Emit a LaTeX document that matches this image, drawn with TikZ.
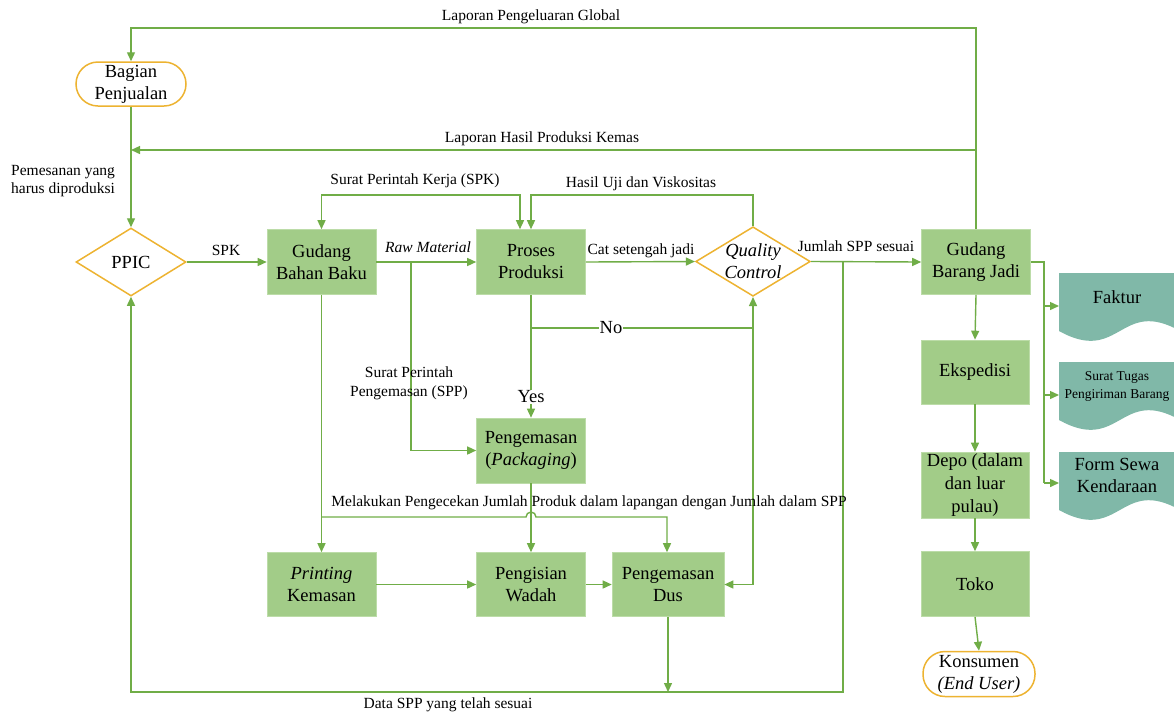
\documentclass[tikz,border=0pt]{standalone}
\usepackage{fontspec}
\setmainfont{Liberation Serif}
\usetikzlibrary{arrows.meta,shapes.geometric}
\definecolor{lg}{HTML}{70AD47}
\definecolor{boxg}{HTML}{A2CC88}
\definecolor{boxb}{HTML}{BCDCA8}
\definecolor{gold}{HTML}{EDB331}
\definecolor{teal}{HTML}{80B8A8}
\tikzset{
  big/.style={font=\fontsize{18.5}{22}\selectfont},
  box/.style={big, fill=boxg, draw=boxb, line width=0.6pt, minimum width=109pt, minimum height=65pt, align=center, inner sep=0pt},
  term/.style={big, fill=white, draw=gold, line width=1.5pt, rounded corners=22pt, minimum width=110pt, minimum height=44pt, align=center, inner sep=0pt},
  dia/.style={big, diamond, draw=gold, fill=white, line width=1.5pt, aspect=1.65, minimum width=110pt, minimum height=68pt, inner sep=0pt, align=center},
  con/.style={draw=lg, line width=1.4pt},
  arr/.style={con, -{Triangle[length=9pt,width=8pt]}},
  lbl/.style={font=\fontsize{15.5}{19}\selectfont, inner sep=1pt, align=center},
  docf/.style={fill=teal},
  doct/.style={big, align=center, inner sep=0pt},
  docn/.style={inner sep=0pt, minimum width=120pt, minimum height=52pt, anchor=north west}
}
\begin{document}
\begin{tikzpicture}[x=1pt,y=-1pt]
\useasboundingbox (0,0) rectangle (1174,716);
% ---------- nodes ----------
\node[term] (bp) at (131,84) {Bagian\\Penjualan};
\node[dia] (ppic) at (131,262) {PPIC};
\node[box] (gbb) at (321.5,262) {Gudang\\Bahan Baku};
\node[box] (pp) at (531,262) {Proses\\Produksi};
\node[dia, minimum width=112pt, minimum height=67pt] (qc) at (753,261.5) {\textit{Quality}\\\textit{Control}};
\node[box] (gbj) at (976,262) {Gudang\\Barang Jadi};
\node[box, minimum width=108pt, minimum height=64pt] (eks) at (975,372) {Ekspedisi};
\node[box, minimum width=108pt, minimum height=66pt, font=\fontsize{18.5}{23}\selectfont] (depo) at (975,485) {Depo (dalam\\dan luar\\pulau)};
\node[box, minimum width=108pt] (toko) at (975,584) {Toko};
\node[term, minimum width=112pt, minimum height=45pt] (kons) at (979,674) {Konsumen\\\textit{(End User)}};
\node[box] (pack) at (531,450.5) {Pengemasan\\(\textit{Packaging})};
\node[box, minimum height=64pt] (print) at (321.5,584.5) {\textit{Printing}\\Kemasan};
\node[box, minimum height=64pt] (isi) at (531,584.5) {Pengisian\\Wadah};
\node[box, minimum width=112pt, minimum height=64pt] (dus) at (668,584.5) {Pengemasan\\Dus};
% documents
\fill[docf] (1059,273) -- (1180,273) -- (1180,331) .. controls (1120,297) and (1120,365) .. (1059,331) -- cycle;
\fill[docf] (1059,362) -- (1180,362) -- (1180,420) .. controls (1120,386) and (1120,454) .. (1059,420) -- cycle;
\fill[docf] (1059,452) -- (1180,452) -- (1180,510) .. controls (1120,476) and (1120,544) .. (1059,510) -- cycle;
\node[docn] (fak) at (1059,273) {};
\node[docn] (stp) at (1059,362) {};
\node[docn] (fsk) at (1059,452) {};
\node[doct] (fakt) at (1117,297) {Faktur};
\node[doct, font=\fontsize{13.5}{18}\selectfont] (stpt) at (1117,386) {Surat Tugas\\Pengiriman Barang};
\node[doct] (fskt) at (1117,475) {Form Sewa\\Kendaraan};
% ---------- coordinates ----------
\coordinate (t1) at (976,28);
\coordinate (t2) at (131,28);
\coordinate (h1) at (976,150);
\coordinate (h2) at (131,150);
\coordinate (s1) at (321.5,195);
\coordinate (s2) at (520,195);
\coordinate (u1) at (753,195);
\coordinate (u2) at (531,195);
\coordinate (rm) at (411,262);
\coordinate (rm2) at (411,450.5);
\coordinate (no1) at (531,328);
\coordinate (no2) at (753,328);
\coordinate (qd) at (753,584.5);
\coordinate (m1) at (321.5,517);
\coordinate (m2) at (526,517);
\coordinate (m3) at (667,517);
\coordinate (d1) at (843,262);
\coordinate (d2) at (843,692);
\coordinate (d3) at (668,692);
\coordinate (d4) at (131,692);
\coordinate (b0) at (1044,262);
\coordinate (b1) at (1044,306);
\coordinate (b2) at (1044,395);
\coordinate (b3) at (1044,483);
% ---------- connectors ----------
\draw[arr] (gbj.north) -- (t1) -- (t2) -- (bp.north);
\draw[arr] (h1) -- (h2);
\draw[arr] (bp.south) -- (ppic.north);
\draw[arr] (ppic.east) -- (gbb.west);
\draw[arr] (gbb.east) -- (pp.west);
\draw[arr] (pp.east) -- (qc.west);
\draw[arr] (qc.east) -- (gbj.west);
\draw[con, {Triangle[length=9pt,width=8pt]}-{Triangle[length=9pt,width=8pt]}] (gbb.north) -- (s1) -- (s2) -- (s2 |- pp.north);
\draw[arr] (qc.north) -- (u1) -- (u2) -- (u2 |- pp.north);
\draw[arr] (rm) -- (rm2) -- (pack.west);
\draw[arr] (pp.south) -- (pack.north);
\draw[con] (no1) -- (no2);
\draw[con, {Triangle[length=9pt,width=8pt]}-{Triangle[length=9pt,width=8pt]}] (dus.east) -- (qd) -- (qc.south);
\draw[arr] (gbb.south) -- (print.north);
\draw[arr] (m1) -- (m2) arc[start angle=180, end angle=360, radius=5] -- (m3) -- (m3 |- dus.north);
\draw[arr] (pack.south) -- (isi.north);
\draw[arr] (print.east) -- (isi.west);
\draw[arr] (isi.east) -- (dus.west);
\draw[arr] (dus.south) -- (d3);
\draw[arr] (d1) -- (d2) -- (d4) -- (ppic.south);
\draw[arr] (gbj.south) -- (eks.north);
\draw[arr] (eks.south) -- (depo.north);
\draw[arr] (depo.south) -- (toko.north);
\draw[arr] (toko.south) -- (kons.north);
\draw[con] (gbj.east |- b0) -- (b0) -- (b3);
\draw[arr] (b1) -- (b1 -| fak.west);
\draw[arr] (b2) -- (b2 -| stp.west);
\draw[arr] (b3) -- (b3 -| fsk.west);
% ---------- labels ----------
\node[lbl] (l1) at (531,17) {Laporan Pengeluaran Global};
\node[lbl] (l2) at (542,139) {Laporan Hasil Produksi Kemas};
\node[lbl, align=left, anchor=west, font=\fontsize{15.5}{18.5}\selectfont] (l3) at (10,181) {Pemesanan yang\\harus diproduksi};
\node[lbl] (l4) at (226,250) {SPK};
\node[lbl] (l5) at (415,181) {Surat Perintah Kerja (SPK)};
\node[lbl] (l6) at (641,184) {Hasil Uji dan Viskositas};
\node[lbl] (l7) at (428,247) {\textit{Raw Material}};
\node[lbl] (l8) at (641,251) {Cat setengah jadi};
\node[lbl] (l9) at (856,246) {Jumlah SPP sesuai};
\node[lbl] (l10) at (409,383) {Surat Perintah\\Pengemasan (SPP)};
\node[lbl] (l11) at (589,503) {Melakukan Pengecekan Jumlah Produk dalam lapangan dengan Jumlah dalam SPP};
\node[lbl] (l12) at (448,705) {Data SPP yang telah sesuai};
\node[big, fill=white, inner sep=1pt] (yes) at (531,397) {Yes};
\node[big, fill=white, inner sep=1pt] (no) at (611,328) {No};
\end{tikzpicture}
\end{document}
